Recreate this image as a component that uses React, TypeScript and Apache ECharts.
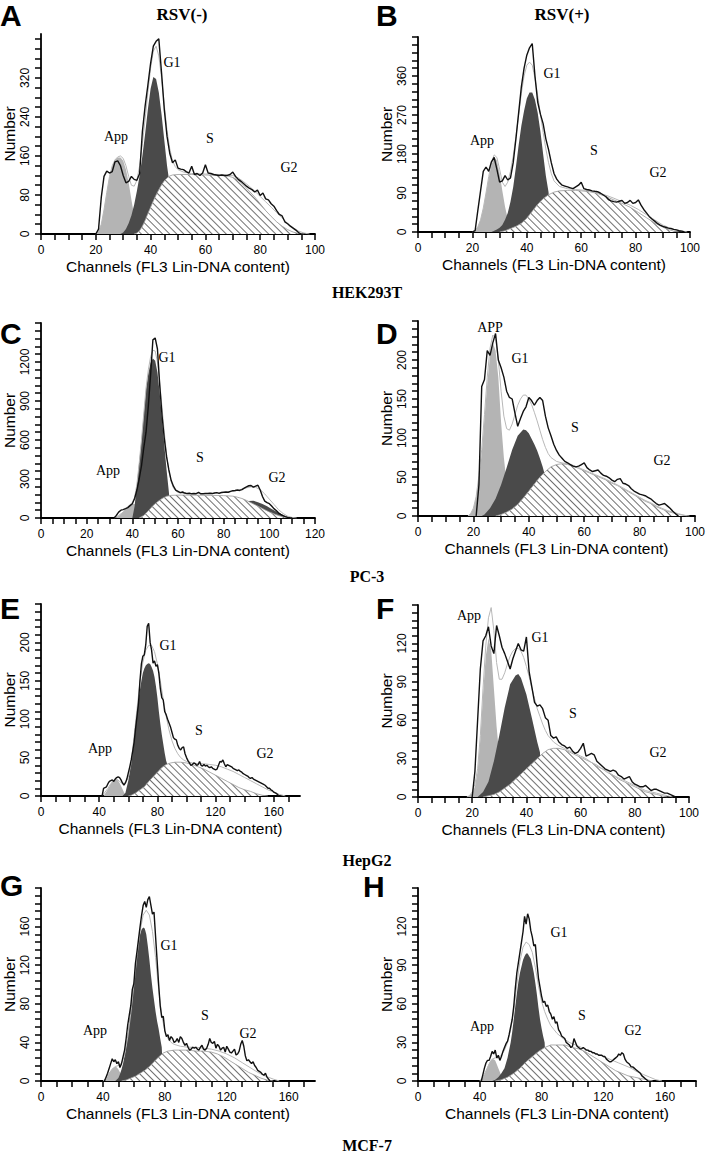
import React, { useEffect, useRef } from "react";
import * as echarts from "echarts";

type Pt = [number, number];

const SANS = 'Arial, "Liberation Sans", Helvetica, sans-serif';
const SERIF = '"Times New Roman", "Liberation Serif", Times, serif';
const X_NAME = "Channels (FL3 Lin-DNA content)";
const Y_NAME = "Number";

// ---------- Panel A (HEK293T, RSV-) ----------
const A_RAW_START = 20;
const A_RAW = [0, 10, 75, 118, 129, 125, 128, 148, 150, 140, 120, 105, 108, 118, 112, 110, 124, 210, 262, 305, 350, 385, 395, 400, 330, 255, 200, 165, 146, 152, 135, 133, 132, 128, 125, 139, 122, 124, 120, 125, 142, 125, 124, 122, 121, 120, 121, 120, 120, 122, 127, 118, 112, 108, 103, 98, 94, 91, 86, 90, 79, 84, 72, 70, 62, 57, 48, 40, 37, 25, 21, 16, 12, 8, 3, 0];
const A_APP: Pt[] = [[20, 0], [21, 5], [22, 20], [23, 50], [24, 85], [25, 118], [26, 140], [27, 152], [28, 157], [29, 157], [30, 150], [31, 132], [32, 105], [33, 70], [34, 38], [35, 14], [36, 3], [37, 0]];
const A_G1: Pt[] = [[29, 0], [30, 3], [31, 10], [32, 22], [33, 38], [34, 60], [35, 88], [36, 120], [37, 160], [38, 205], [39, 255], [40, 298], [41, 322], [42, 318], [43, 290], [44, 245], [45, 192], [46, 140], [47, 100], [48, 0]];
const A_S: Pt[] = [[34, 0], [35, 2], [36, 7], [37, 16], [38, 28], [39, 42], [40, 55], [41, 68], [42, 80], [43, 91], [44, 101], [45, 109], [46, 115], [47, 119], [48, 121], [50, 122], [55, 122], [60, 121], [65, 120], [68, 119], [70, 116], [72, 110], [74, 100], [76, 88], [78, 76], [80, 62], [82, 48], [84, 36], [86, 25], [88, 16], [90, 9], [92, 4], [94, 1], [96, 0]];
const A_FIT: Pt[] = [[20, 0], [21, 5], [22, 20], [23, 50], [24, 85], [25, 118], [26, 140], [27, 152], [28, 158], [29, 160], [30, 155], [31, 140], [32, 118], [33, 100], [34, 98], [35, 110], [36, 140], [37, 185], [38, 235], [39, 290], [40, 340], [41, 375], [42, 385], [43, 365], [44, 320], [45, 265], [46, 212], [47, 175], [48, 150], [49, 138], [50, 132], [52, 127], [55, 124], [60, 123], [65, 122], [70, 120], [72, 115], [74, 107], [76, 98], [78, 88], [80, 77], [82, 66], [84, 55], [86, 44], [88, 33], [90, 22], [92, 13], [94, 6], [96, 2], [98, 0]];
const A_X_LABELS = [0, 20, 40, 60, 80, 100];
const A_Y_LABELS = [0, 80, 160, 240, 320];

// ---------- Panel B (HEK293T, RSV+) ----------
const B_RAW_START = 20;
const B_RAW = [0, 3, 50, 95, 140, 150, 140, 162, 172, 145, 115, 118, 130, 120, 125, 160, 215, 275, 335, 378, 408, 425, 435, 360, 300, 272, 250, 215, 190, 160, 135, 122, 114, 108, 106, 104, 102, 100, 104, 108, 115, 100, 98, 97, 95, 94, 93, 90, 86, 82, 75, 72, 70, 69, 71, 73, 66, 68, 73, 66, 68, 74, 62, 52, 44, 36, 30, 25, 20, 16, 13, 11, 9, 8, 6, 5, 3, 2, 0];
const B_APP: Pt[] = [[20, 0], [21, 3], [22, 12], [23, 28], [24, 55], [25, 90], [26, 125], [27, 155], [28, 172], [29, 165], [30, 135], [31, 95], [32, 58], [33, 30], [34, 12], [35, 4], [36, 0]];
const B_G1: Pt[] = [[27, 0], [28, 3], [29, 6], [30, 10], [31, 16], [32, 28], [33, 44], [34, 70], [35, 104], [36, 150], [37, 200], [38, 245], [39, 280], [40, 308], [41, 322], [42, 322], [43, 305], [44, 275], [45, 232], [46, 180], [47, 130], [48, 92], [49, 0]];
const B_S: Pt[] = [[30, 0], [32, 3], [34, 8], [36, 13], [38, 20], [40, 32], [42, 48], [44, 64], [46, 77], [48, 86], [50, 92], [52, 95], [55, 96], [58, 96], [60, 95], [63, 93], [66, 89], [69, 82], [72, 74], [75, 66], [78, 57], [81, 45], [84, 33], [87, 21], [90, 11], [92, 6], [94, 2], [96, 0]];
const B_FIT: Pt[] = [[20, 0], [21, 3], [22, 12], [23, 28], [24, 55], [25, 90], [26, 128], [27, 160], [28, 178], [29, 172], [30, 145], [31, 115], [32, 105], [33, 115], [34, 140], [35, 175], [36, 220], [37, 270], [38, 320], [39, 360], [40, 385], [41, 392], [42, 385], [43, 355], [44, 315], [45, 272], [46, 230], [47, 192], [48, 160], [49, 135], [50, 118], [52, 105], [55, 100], [58, 98], [60, 97], [63, 95], [66, 91], [69, 85], [72, 78], [75, 70], [78, 62], [81, 52], [84, 40], [87, 28], [90, 16], [93, 8], [96, 3], [99, 0]];
const B_X_LABELS = [0, 20, 40, 60, 80, 100];
const B_Y_LABELS = [0, 90, 180, 270, 360];

// ---------- Panel C (PC-3, RSV-) ----------
const C_RAW_START = 32;
const C_RAW = [0, 20, 45, 60, 65, 72, 80, 95, 110, 150, 215, 300, 400, 540, 660, 860, 1100, 1370, 1385, 1300, 1020, 790, 610, 470, 370, 290, 245, 215, 205, 195, 200, 192, 188, 190, 186, 188, 187, 198, 186, 187, 189, 188, 190, 188, 192, 195, 190, 196, 198, 200, 198, 205, 210, 212, 215, 212, 218, 230, 240, 248, 250, 238, 245, 252, 215, 165, 130, 118, 110, 92, 72, 58, 40, 28, 18, 10, 5, 2, 0];
const C_APP: Pt[] = [[32, 0], [33, 5], [34, 15], [35, 30], [36, 48], [37, 68], [38, 88], [39, 102], [40, 110], [41, 108], [42, 95], [43, 70], [44, 45], [45, 22], [46, 8], [47, 0]];
const C_G1: Pt[] = [[40, 0], [41, 90], [42, 260], [43, 430], [44, 600], [45, 800], [46, 990], [47, 1110], [48, 1195], [49, 1226], [50, 1210], [51, 1120], [52, 960], [53, 760], [54, 560], [55, 370], [56, 200], [57, 0]];
const C_S: Pt[] = [[43, 0], [45, 20], [47, 55], [49, 95], [51, 125], [53, 150], [55, 168], [57, 174], [60, 176], [65, 176], [70, 175], [75, 174], [80, 172], [84, 168], [86, 160], [88, 150], [90, 135], [92, 118], [94, 100], [96, 82], [98, 64], [100, 47], [102, 32], [104, 19], [106, 9], [108, 3], [110, 0]];
const C_G2: Pt[] = [[90, 0], [91, 130], [93, 132], [95, 122], [97, 108], [99, 90], [101, 70], [103, 50], [105, 30], [107, 14], [109, 4], [110, 0]];
const C_FIT: Pt[] = [[32, 0], [34, 20], [36, 45], [38, 85], [40, 120], [41, 160], [42, 260], [43, 420], [44, 600], [45, 800], [46, 1000], [47, 1140], [48, 1240], [49, 1290], [50, 1285], [51, 1200], [52, 1040], [53, 850], [54, 660], [55, 490], [56, 360], [57, 280], [58, 232], [59, 208], [60, 196], [62, 190], [65, 188], [70, 188], [75, 190], [80, 196], [84, 205], [86, 212], [88, 222], [90, 232], [92, 240], [94, 236], [96, 218], [98, 185], [100, 145], [102, 105], [104, 65], [106, 35], [108, 14], [110, 4], [112, 0]];
const C_X_LABELS = [0, 20, 40, 60, 80, 100, 120];
const C_Y_LABELS = [0, 300, 600, 900, 1200];

// ---------- Panel D (PC-3, RSV+) ----------
const D_RAW_START = 21;
const D_RAW = [0, 40, 166, 175, 212, 206, 222, 234, 200, 190, 178, 160, 152, 150, 132, 115, 125, 134, 140, 152, 148, 142, 148, 152, 148, 128, 113, 103, 92, 84, 78, 74, 70, 68, 66, 64, 63, 64, 66, 68, 62, 59, 57, 58, 59, 55, 52, 51, 49, 46, 44, 47, 48, 42, 41, 39, 35, 32, 30, 28, 27, 26, 24, 22, 19, 16, 14, 15, 16, 13, 10, 6, 3, 0];
const D_APP: Pt[] = [[18, 0], [19, 3], [20, 10], [21, 25], [22, 50], [23, 80], [24, 125], [25, 170], [26, 205], [27, 222], [28, 212], [29, 178], [30, 120], [31, 75], [32, 42], [33, 18], [34, 6], [35, 0]];
const D_G1: Pt[] = [[23, 0], [24, 2], [26, 10], [28, 22], [30, 40], [32, 62], [34, 85], [36, 103], [38, 111], [39, 110], [40, 106], [42, 92], [43, 84], [44, 74], [45, 63], [46, 50], [47, 0]];
const D_S: Pt[] = [[28, 0], [30, 2], [32, 5], [34, 9], [36, 15], [38, 23], [40, 32], [42, 41], [44, 50], [46, 57], [48, 63], [50, 66], [52, 67], [54, 66], [56, 64], [58, 61], [60, 58], [62, 55], [64, 52], [66, 49], [68, 46], [70, 42], [72, 39], [74, 35], [76, 31], [78, 27], [80, 23], [82, 19], [84, 16], [86, 12], [88, 9], [90, 6], [92, 4], [94, 2], [96, 1], [97, 0]];
const D_FIT: Pt[] = [[18, 0], [19, 3], [20, 10], [21, 25], [22, 52], [23, 85], [24, 130], [25, 178], [26, 215], [27, 232], [28, 228], [29, 200], [30, 160], [31, 128], [32, 112], [33, 110], [34, 118], [35, 130], [36, 142], [37, 150], [38, 155], [39, 155], [40, 150], [41, 143], [42, 133], [43, 122], [44, 110], [45, 98], [46, 88], [47, 80], [48, 75], [50, 70], [52, 68], [54, 67], [56, 65], [58, 62], [60, 59], [62, 56], [64, 53], [66, 50], [68, 47], [70, 43], [72, 40], [74, 36], [76, 32], [78, 28], [80, 24], [82, 20], [84, 17], [86, 13], [88, 10], [90, 7], [92, 5], [94, 3], [96, 1], [98, 0]];
const D_X_LABELS = [0, 20, 40, 60, 80, 100];
const D_Y_LABELS = [0, 50, 100, 150, 200];

// ---------- Panel E (HepG2, RSV-) ----------
const E_RAW_START = 42;
const E_RAW = [0, 10, 11, 12, 16, 19, 20, 21, 19, 22, 24, 25, 24, 21, 17, 14, 17, 22, 30, 38, 47, 58, 70, 88, 104, 121, 150, 172, 182, 184, 197, 221, 225, 200, 190, 173, 176, 169, 171, 160, 140, 128, 125, 110, 106, 100, 95, 90, 83, 76, 74, 73, 66, 62, 60, 63, 64, 55, 50, 46, 43, 40, 41, 43, 42, 40, 41, 45, 40, 39, 41, 39, 40, 38, 37, 38, 36, 35, 34, 35, 40, 45, 44, 47, 42, 38, 41, 40, 39, 38, 36, 35, 34, 33, 34, 32, 31, 29, 28, 27, 26, 24, 23, 24, 22, 21, 20, 19, 18, 17, 16, 15, 14, 12, 10, 10, 8, 7, 5, 4, 3, 1, 0];
const E_APP: Pt[] = [[43, 0], [44, 3], [45, 6], [46, 9], [47, 12], [48, 16], [49, 19], [50, 21], [51, 22], [52, 22], [53, 20], [54, 17], [55, 13], [56, 9], [57, 5], [58, 2], [59, 0]];
const E_G1: Pt[] = [[56, 0], [58, 4], [59, 12], [60, 20], [61, 32], [62, 45], [63, 60], [64, 78], [65, 96], [66, 112], [67, 126], [68, 138], [69, 150], [70, 160], [71, 166], [72, 170], [73, 172], [74, 173], [75, 172], [76, 168], [77, 163], [78, 155], [79, 143], [80, 128], [81, 110], [82, 94], [83, 80], [84, 68], [85, 56], [86, 46], [87, 40], [88, 0]];
const E_S: Pt[] = [[60, 0], [62, 1], [65, 4], [68, 8], [71, 12], [74, 19], [77, 25], [80, 31], [83, 37], [86, 41], [89, 43], [92, 44], [96, 44], [100, 43], [104, 41], [108, 38], [112, 35], [116, 31], [120, 27], [124, 23], [128, 19], [132, 15], [136, 11], [140, 8], [144, 6], [148, 3], [152, 1], [156, 0]];
const E_FIT: Pt[] = [[42, 0], [44, 5], [46, 10], [48, 16], [50, 20], [52, 22], [54, 19], [56, 16], [58, 17], [60, 24], [62, 44], [64, 78], [66, 114], [68, 148], [70, 174], [72, 190], [74, 196], [76, 196], [78, 188], [80, 172], [82, 150], [84, 126], [86, 104], [88, 86], [90, 72], [92, 62], [94, 55], [96, 50], [98, 47], [100, 45], [104, 43], [108, 42], [112, 42], [116, 41], [120, 40], [124, 38], [128, 35], [132, 32], [136, 28], [140, 24], [144, 20], [148, 16], [152, 12], [156, 8], [160, 5], [164, 2], [168, 0]];
const E_X_LABELS = [0, 40, 80, 120, 160];
const E_Y_LABELS = [0, 50, 100, 150, 200];

// ---------- Panel F (HepG2, RSV+) ----------
const F_RAW_START = 20;
const F_RAW = [0, 20, 60, 100, 122, 126, 133, 118, 112, 134, 126, 117, 112, 106, 100, 108, 114, 120, 115, 114, 125, 98, 86, 74, 71, 72, 69, 62, 60, 48, 46, 47, 43, 41, 40, 38, 39, 36, 34, 35, 38, 42, 32, 33, 34, 33, 28, 26, 24, 22, 21, 20, 21, 20, 17, 16, 14, 15, 16, 12, 10, 9, 8, 8, 9, 7, 5, 6, 6, 5, 4, 3, 3, 2, 1, 0];
const F_APP: Pt[] = [[18, 0], [19, 1], [20, 3], [21, 8], [22, 20], [23, 45], [24, 80], [25, 110], [26, 124], [27, 115], [28, 85], [29, 55], [30, 32], [31, 15], [32, 6], [33, 2], [34, 0]];
const F_G1: Pt[] = [[22, 0], [23, 2], [24, 4], [26, 12], [28, 28], [30, 48], [32, 70], [34, 88], [36, 95], [37, 96], [38, 93], [40, 80], [42, 62], [44, 43], [45, 35], [46, 0]];
const F_S: Pt[] = [[24, 0], [26, 1], [28, 2], [30, 4], [32, 7], [34, 10], [36, 14], [38, 18], [40, 22], [42, 26], [44, 30], [46, 34], [48, 37], [50, 38], [52, 38], [54, 37], [56, 35], [58, 33], [60, 31], [62, 29], [64, 27], [66, 24], [68, 22], [70, 19], [72, 17], [74, 14], [76, 12], [78, 10], [80, 8], [82, 6], [84, 4], [86, 3], [88, 2], [90, 1], [92, 0]];
const F_FIT: Pt[] = [[18, 0], [19, 1], [20, 4], [21, 10], [22, 22], [23, 48], [24, 85], [25, 118], [26, 140], [27, 148], [28, 130], [29, 105], [30, 92], [31, 92], [32, 97], [33, 104], [34, 110], [35, 114], [36, 116], [37, 116], [38, 114], [39, 109], [40, 102], [41, 94], [42, 85], [43, 77], [44, 69], [45, 63], [46, 57], [47, 52], [48, 48], [50, 43], [52, 40], [54, 38], [56, 36], [58, 34], [60, 32], [62, 30], [64, 27], [66, 25], [68, 22], [70, 20], [72, 17], [74, 15], [76, 13], [78, 11], [80, 9], [82, 7], [84, 5], [86, 4], [88, 3], [90, 2], [92, 1], [94, 0]];
const F_X_LABELS = [0, 20, 40, 60, 80, 100];
const F_Y_LABELS = [0, 30, 60, 90, 120];

// ---------- Panel G (MCF-7, RSV-) ----------
const G_RAW_START = 41;
const G_RAW = [0, 4, 8, 13, 18, 23, 20, 22, 18, 20, 14, 18, 25, 32, 44, 58, 68, 78, 95, 101, 122, 134, 147, 160, 172, 182, 186, 180, 188, 191, 182, 173, 175, 150, 125, 100, 78, 66, 67, 52, 46, 48, 42, 46, 44, 40, 41, 44, 40, 46, 44, 40, 37, 39, 35, 32, 33, 35, 34, 35, 33, 32, 35, 37, 33, 32, 34, 38, 44, 40, 39, 41, 34, 38, 36, 32, 34, 35, 30, 36, 33, 30, 29, 31, 33, 27, 28, 31, 38, 42, 36, 26, 21, 22, 20, 18, 20, 16, 14, 11, 10, 9, 7, 6, 8, 4, 2, 0];
const G_APP: Pt[] = [[41, 0], [42, 2], [43, 5], [44, 8], [45, 11], [46, 13], [47, 14], [48, 15], [49, 14], [50, 12], [51, 9], [52, 6], [53, 3], [54, 1], [55, 0]];
const G_G1: Pt[] = [[48, 0], [50, 3], [51, 7], [52, 12], [53, 18], [54, 26], [55, 36], [56, 48], [57, 62], [58, 76], [59, 90], [60, 102], [61, 116], [62, 130], [63, 142], [64, 152], [65, 157], [66, 159], [67, 158], [68, 152], [69, 140], [70, 126], [71, 110], [72, 96], [73, 84], [74, 72], [75, 62], [76, 54], [77, 44], [78, 35], [79, 0]];
const G_S: Pt[] = [[52, 0], [55, 1], [58, 3], [61, 5], [64, 8], [67, 11], [70, 15], [73, 20], [76, 25], [79, 29], [82, 31], [86, 32], [90, 32], [95, 32], [100, 31], [105, 31], [110, 30], [114, 28], [118, 25], [122, 21], [126, 17], [130, 13], [134, 9], [138, 6], [142, 3], [146, 1], [150, 0]];
const G_FIT: Pt[] = [[40, 0], [42, 3], [44, 8], [46, 12], [48, 15], [50, 16], [52, 18], [54, 27], [56, 45], [58, 70], [60, 100], [62, 130], [64, 155], [66, 172], [68, 177], [70, 172], [72, 155], [74, 128], [76, 95], [78, 68], [80, 52], [82, 44], [84, 40], [86, 38], [90, 36], [95, 35], [100, 35], [105, 34], [110, 33], [115, 31], [120, 28], [125, 24], [130, 19], [135, 14], [140, 9], [145, 5], [150, 2], [154, 0]];
const G_X_LABELS = [0, 40, 80, 120, 160];
const G_Y_LABELS = [0, 40, 80, 120, 160];

// ---------- Panel H (MCF-7, RSV+) ----------
const H_RAW_START = 41;
const H_RAW = [0, 5, 10, 14, 16, 16, 19, 23, 21, 24, 18, 20, 16, 19, 23, 26, 29, 31, 36, 42, 48, 58, 72, 84, 92, 100, 108, 116, 128, 122, 130, 126, 117, 112, 105, 106, 92, 80, 73, 66, 61, 62, 58, 59, 54, 52, 48, 50, 45, 46, 40, 38, 35, 34, 33, 30, 29, 28, 26, 27, 33, 30, 27, 26, 25, 25, 26, 25, 24, 24, 23, 23, 22, 22, 21, 21, 20, 20, 20, 19, 19, 17, 16, 15, 15, 16, 17, 18, 19, 21, 20, 22, 21, 17, 15, 14, 13, 11, 11, 10, 9, 8, 7, 6, 4, 3, 2, 1, 0];
const H_APP: Pt[] = [[40, 0], [41, 1], [42, 3], [43, 5], [44, 8], [45, 11], [46, 14], [47, 16], [48, 17], [49, 17], [50, 16], [51, 13], [52, 10], [53, 7], [54, 4], [55, 2], [56, 1], [57, 0]];
const H_G1: Pt[] = [[48, 0], [50, 1], [52, 3], [54, 6], [56, 10], [58, 18], [60, 30], [61, 38], [62, 48], [63, 58], [64, 68], [65, 77], [66, 84], [67, 89], [68, 94], [69, 97], [70, 99], [71, 99], [72, 97], [73, 95], [74, 90], [75, 84], [76, 76], [77, 67], [78, 57], [79, 48], [80, 41], [81, 35], [82, 30], [83, 0]];
const H_S: Pt[] = [[50, 0], [54, 1], [58, 3], [62, 6], [66, 10], [70, 15], [74, 19], [78, 23], [82, 26], [86, 28], [90, 28], [95, 28], [100, 26], [104, 25], [108, 23], [112, 20], [116, 17], [120, 14], [124, 11], [128, 8], [132, 6], [136, 4], [140, 3], [144, 2], [148, 1], [152, 0]];
const H_FIT: Pt[] = [[40, 0], [42, 3], [44, 8], [46, 13], [48, 17], [50, 18], [52, 18], [54, 20], [56, 24], [58, 30], [60, 40], [62, 55], [64, 75], [66, 93], [68, 104], [70, 108], [72, 106], [74, 100], [76, 88], [78, 74], [80, 62], [82, 54], [84, 48], [86, 43], [88, 40], [90, 37], [94, 33], [98, 30], [102, 28], [106, 26], [110, 24], [114, 22], [118, 20], [122, 18], [126, 16], [130, 14], [134, 12], [138, 10], [142, 7], [146, 5], [150, 3], [154, 1], [158, 0]];
const H_X_LABELS = [0, 40, 80, 120, 160];
const H_Y_LABELS = [0, 30, 60, 90, 120];

// ---------- helpers ----------
const pts = (start: number, vals: number[]): Pt[] => vals.map((v, i) => [start + i, v] as Pt);
const ticks = (step: number, max: number): number[] => {
  const out: number[] = [];
  for (let v = 0; v <= max + 1e-9; v += step) out.push(v);
  return out;
};

type Panel = {
  raw: Pt[]; app: Pt[]; g1: Pt[]; s: Pt[]; g2?: Pt[]; fit: Pt[];
  grid: { left: number; top: number; width: number; height: number };
  xMax: number; xTick: number; xLabels: number[];
  yMax: number; yTick: number; yLabels: number[];
};

const PANELS: Panel[] = [
  { raw: pts(A_RAW_START, A_RAW), app: A_APP, g1: A_G1, s: A_S, fit: A_FIT,
    grid: { left: 33, top: 34, width: 282, height: 200 }, xMax: 100, xTick: 5, xLabels: A_X_LABELS, yMax: 410, yTick: 20, yLabels: A_Y_LABELS },
  { raw: pts(B_RAW_START, B_RAW), app: B_APP, g1: B_G1, s: B_S, fit: B_FIT,
    grid: { left: 418, top: 37, width: 272, height: 195 }, xMax: 100, xTick: 5, xLabels: B_X_LABELS, yMax: 450, yTick: 18, yLabels: B_Y_LABELS },
  { raw: pts(C_RAW_START, C_RAW), app: C_APP, g1: C_G1, s: C_S, g2: C_G2, fit: C_FIT,
    grid: { left: 33, top: 323, width: 282, height: 195 }, xMax: 120, xTick: 5, xLabels: C_X_LABELS, yMax: 1500, yTick: 60, yLabels: C_Y_LABELS },
  { raw: pts(D_RAW_START, D_RAW), app: D_APP, g1: D_G1, s: D_S, fit: D_FIT,
    grid: { left: 418, top: 321, width: 277, height: 195 }, xMax: 100, xTick: 5, xLabels: D_X_LABELS, yMax: 250, yTick: 10, yLabels: D_Y_LABELS },
  { raw: pts(E_RAW_START, E_RAW), app: E_APP, g1: E_G1, s: E_S, fit: E_FIT,
    grid: { left: 32, top: 604, width: 268, height: 192 }, xMax: 178, xTick: 10, xLabels: E_X_LABELS, yMax: 250, yTick: 10, yLabels: E_Y_LABELS },
  { raw: pts(F_RAW_START, F_RAW), app: F_APP, g1: F_G1, s: F_S, fit: F_FIT,
    grid: { left: 418, top: 605, width: 271, height: 192 }, xMax: 100, xTick: 5, xLabels: F_X_LABELS, yMax: 150, yTick: 6, yLabels: F_Y_LABELS },
  { raw: pts(G_RAW_START, G_RAW), app: G_APP, g1: G_G1, s: G_S, fit: G_FIT,
    grid: { left: 38, top: 888, width: 277, height: 193 }, xMax: 177, xTick: 10, xLabels: G_X_LABELS, yMax: 200, yTick: 8, yLabels: G_Y_LABELS },
  { raw: pts(H_RAW_START, H_RAW), app: H_APP, g1: H_G1, s: H_S, fit: H_FIT,
    grid: { left: 418, top: 888, width: 278, height: 193 }, xMax: 180, xTick: 10, xLabels: H_X_LABELS, yMax: 150, yTick: 6, yLabels: H_Y_LABELS },
];

// text annotations: [x, y, text]
const PANEL_LETTERS: [number, number, string][] = [
  [0, 15, "A"], [376, 15, "B"], [0, 333, "C"], [376, 333, "D"],
  [0, 608, "E"], [376, 608, "F"], [0, 885, "G"], [363, 886, "H"],
];
const COLUMN_TITLES: [number, number, string][] = [[182, 14, "RSV(-)"], [562, 14, "RSV(+)"]];
const CELL_LINES: [number, number, string][] = [
  [367, 292, "HEK293T"], [367, 576, "PC-3"], [367, 860, "HepG2"], [367, 1145, "MCF-7"],
];
const PHASE_LABELS: [number, number, string][] = [
  [116, 136, "App"], [172, 62, "G1"], [210, 138, "S"], [289, 167, "G2"],
  [482, 140, "App"], [552, 73, "G1"], [594, 150, "S"], [658, 172, "G2"],
  [108, 470, "App"], [167, 357, "G1"], [200, 457, "S"], [277, 477, "G2"],
  [490, 327, "APP"], [520, 358, "G1"], [575, 427, "S"], [662, 460, "G2"],
  [100, 748, "App"], [168, 645, "G1"], [199, 730, "S"], [265, 753, "G2"],
  [469, 615, "App"], [540, 637, "G1"], [573, 713, "S"], [658, 752, "G2"],
  [95, 1030, "App"], [169, 945, "G1"], [205, 1015, "S"], [248, 1033, "G2"],
  [482, 1026, "App"], [559, 932, "G1"], [582, 1015, "S"], [633, 1030, "G2"],
];

const HATCH = {
  symbol: "rect",
  symbolSize: 1,
  dashArrayX: [1, 0],
  dashArrayY: [1, 4],
  rotation: Math.PI / 4,
  color: "#707070",
};

function textEl(x: number, y: number, text: string, font: string, align = "center") {
  return {
    type: "text",
    x,
    y,
    silent: true,
    style: {
      text,
      font,
      fill: "#000",
      align,
      verticalAlign: "middle",
      textAlign: align,
      textVerticalAlign: "middle",
    },
  };
}

function buildOption() {
  const grid: any[] = [];
  const xAxis: any[] = [];
  const yAxis: any[] = [];
  const series: any[] = [];
  const axisLineStyle = { color: "#000", width: 1.8 };
  const tickStyle = { color: "#000", width: 1.5 };
  const plain = (v: number) => String(v);

  PANELS.forEach((p, i) => {
    grid.push({ ...p.grid });
    xAxis.push({
      gridIndex: i,
      type: "value",
      min: 0,
      max: p.xMax,
      axisLine: { show: true, onZero: false, lineStyle: axisLineStyle },
      axisTick: { show: true, customValues: ticks(p.xTick, p.xMax), length: 6, lineStyle: tickStyle },
      axisLabel: { customValues: p.xLabels, formatter: plain, margin: 10, fontSize: 12, color: "#000", fontFamily: SANS },
      splitLine: { show: false },
      name: X_NAME,
      nameLocation: "middle",
      nameGap: 24,
      nameTextStyle: { fontSize: 15.5, color: "#000", fontFamily: SANS },
    });
    yAxis.push({
      gridIndex: i,
      type: "value",
      min: 0,
      max: p.yMax,
      axisLine: { show: true, onZero: false, lineStyle: axisLineStyle },
      axisTick: { show: true, customValues: ticks(p.yTick, p.yMax), length: 6, lineStyle: tickStyle },
      axisLabel: { customValues: p.yLabels, formatter: plain, rotate: 90, margin: 10, fontSize: 12, color: "#000", fontFamily: SANS },
      splitLine: { show: false },
      name: Y_NAME,
      nameLocation: "middle",
      nameGap: 24,
      nameTextStyle: { fontSize: 15.5, color: "#000", fontFamily: SANS },
    });

    const base = { type: "line", xAxisIndex: i, yAxisIndex: i, symbol: "none", showSymbol: false, silent: true, animation: false };
    series.push({ ...base, name: "App", data: p.app, z: 2, lineStyle: { width: 0 }, areaStyle: { color: "#b4b4b4", opacity: 1 } });
    series.push({ ...base, name: "G1", data: p.g1, z: 3, lineStyle: { width: 0 }, areaStyle: { color: "#4a4a4a", opacity: 1 } });
    if (p.g2) {
      series.push({ ...base, name: "G2", data: p.g2, z: 3, lineStyle: { width: 0 }, areaStyle: { color: "#4a4a4a", opacity: 1 } });
    }
    series.push({
      ...base, name: "S", data: p.s, z: 4,
      lineStyle: { width: 0.8, color: "#999", decal: HATCH },
      itemStyle: { decal: HATCH },
      areaStyle: { color: "#ffffff", opacity: 1 },
    });
    series.push({ ...base, name: "Fit", data: p.fit, z: 5, lineStyle: { width: 1, color: "#b8b8b8" } });
    series.push({ ...base, name: "Raw", data: p.raw, z: 6, lineStyle: { width: 1.4, color: "#111" } });
  });

  const graphic: any[] = [];
  PANEL_LETTERS.forEach(([x, y, t]) => graphic.push(textEl(x, y, t, `bold 30px ${SANS}`, "left")));
  COLUMN_TITLES.forEach(([x, y, t]) => graphic.push(textEl(x, y, t, `bold 17px ${SERIF}`)));
  CELL_LINES.forEach(([x, y, t]) => graphic.push(textEl(x, y, t, `bold 16px ${SERIF}`)));
  PHASE_LABELS.forEach(([x, y, t]) => graphic.push(textEl(x, y, t, `14px ${SERIF}`)));

  return {
    animation: false,
    backgroundColor: "#ffffff",
    textStyle: { fontFamily: SANS },
    grid,
    xAxis,
    yAxis,
    series,
    graphic,
  };
}

export default function App() {
  const ref = useRef<HTMLDivElement>(null);
  useEffect(() => {
    if (!ref.current) return;
    const chart = echarts.init(ref.current, null, { renderer: "svg", width: 709, height: 1161 });
    chart.setOption(buildOption() as any);
    return () => chart.dispose();
  }, []);
  return (
    <div
      ref={ref}
      style={{ position: "absolute", left: 0, top: 0, width: 709, height: 1161, background: "#fff" }}
    />
  );
}
